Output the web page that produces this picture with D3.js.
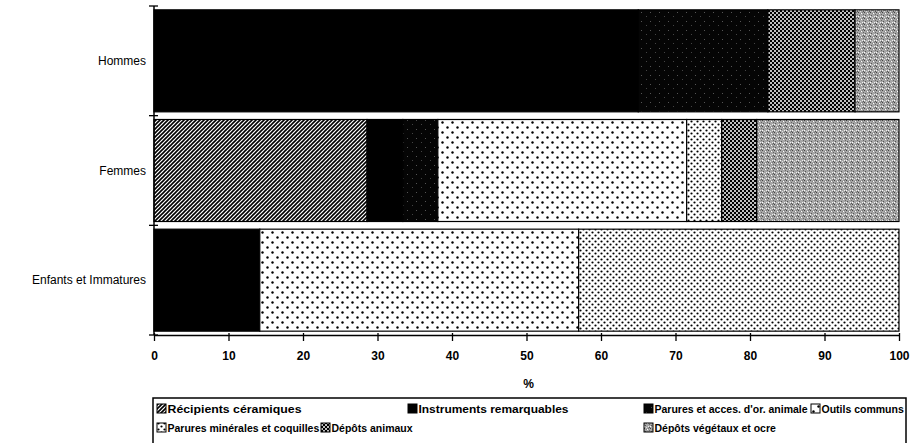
<!DOCTYPE html>
<html><head><meta charset="utf-8">
<script src="https://cdn.jsdelivr.net/npm/d3@7"></script>
<style>
body{margin:0;background:#fff;}
svg{display:block;}
</style></head>
<body>
<svg id="chart" width="910" height="443"></svg>
<script>
const categories = ["Hommes", "Femmes", "Enfants et Immatures"];
const seriesNames = ["Récipients céramiques", "Instruments remarquables", "Parures et acces. d'or. animale", "Outils communs", "Parures minérales et coquilles", "Dépôts animaux", "Dépôts végétaux et ocre"];
const recipients = [0, 28.6, 0];
const instruments = [65.0, 4.8, 14.2];
const paruresAnimale = [17.4, 4.7, 0];
const outils = [0, 33.4, 42.8];
const paruresMinerales = [0, 4.7, 43.0];
const depotsAnimaux = [11.7, 4.7, 0];
const depotsVegetaux = [5.9, 19.1, 0];
const xTicks = [0, 10, 20, 30, 40, 50, 60, 70, 80, 90, 100];
const xTitle = "%";

const seriesValues = [recipients, instruments, paruresAnimale, outils, paruresMinerales, depotsAnimaux, depotsVegetaux];
const keys = seriesNames;
const table = categories.map((c, i) => {
  const row = {cat: c};
  keys.forEach((k, j) => row[k] = seriesValues[j][i]);
  return row;
});

const svg = d3.select("#chart");
const defs = svg.append("defs");

function pat(id, w, h, build) {
  const p = defs.append("pattern").attr("id", id).attr("patternUnits", "userSpaceOnUse").attr("width", w).attr("height", h);
  build(p);
}
pat("p0", 4, 4, p => {
  p.append("rect").attr("width", 4).attr("height", 4).attr("fill", "#fff");
  p.append("path").attr("d", "M-1,1 l2,-2 M0,4 l4,-4 M3,5 l2,-2").attr("stroke", "#000").attr("stroke-width", 1.6);
});
pat("p1", 4, 4, p => {
  p.append("rect").attr("width", 4).attr("height", 4).attr("fill", "#000");
});
pat("p2", 9, 9, p => {
  p.append("rect").attr("width", 9).attr("height", 9).attr("fill", "#050505");
  p.append("rect").attr("x", 2).attr("y", 3).attr("width", 1).attr("height", 1).attr("fill", "#555");
  p.append("rect").attr("x", 7).attr("y", 7).attr("width", 1).attr("height", 1).attr("fill", "#444");
});
pat("p3", 10, 10, p => {
  p.append("rect").attr("width", 10).attr("height", 10).attr("fill", "#fff");
  p.append("circle").attr("cx", 2.5).attr("cy", 2.5).attr("r", 1.2).attr("fill", "#000");
  p.append("circle").attr("cx", 7.5).attr("cy", 7.5).attr("r", 1.2).attr("fill", "#000");
});
pat("p4", 6, 6, p => {
  p.append("rect").attr("width", 6).attr("height", 6).attr("fill", "#fff");
  p.append("circle").attr("cx", 1.5).attr("cy", 1.5).attr("r", 1.1).attr("fill", "#000");
  p.append("circle").attr("cx", 4.5).attr("cy", 4.5).attr("r", 1.1).attr("fill", "#000");
});
pat("p5", 4, 4, p => {
  p.append("rect").attr("width", 4).attr("height", 4).attr("fill", "#000");
  p.append("circle").attr("cx", 1).attr("cy", 1).attr("r", 1.0).attr("fill", "#fff");
  p.append("circle").attr("cx", 3).attr("cy", 3).attr("r", 1.0).attr("fill", "#fff");
});
pat("p6", 6, 6, p => {
  p.append("rect").attr("width", 6).attr("height", 6).attr("fill", "#a6a6a6");
  [[0,0,"#444"],[3,1,"#fff"],[1,3,"#555"],[4,4,"#eee"],[5,2,"#666"],[2,5,"#ddd"],[0,4,"#fff"],[4,0,"#777"],[2,1,"#888"],[5,5,"#555"]].forEach(d =>
    p.append("rect").attr("x", d[0]).attr("y", d[1]).attr("width", 1).attr("height", 1).attr("fill", d[2]));
});
const fills = keys.map((k, i) => `url(#p${i})`);
const color = d3.scaleOrdinal().domain(keys).range(fills);

const margin = {left: 154, right: 11, top: 6, bottom: 108};
const W = 910, H = 443;
const x = d3.scaleLinear().domain([0, 100]).range([margin.left, W - margin.right]);
const y = d3.scaleBand().domain(categories).range([margin.top, H - margin.bottom]).paddingInner(0.07).paddingOuter(0.035);

const stack = d3.stack().keys(keys)(table);

svg.append("g").selectAll("g").data(stack).join("g")
  .attr("fill", d => color(d.key))
  .selectAll("rect").data(d => d.filter(s => s[1] - s[0] > 0)).join("rect")
  .attr("x", d => x(d[0]))
  .attr("width", d => x(d[1]) - x(d[0]))
  .attr("y", d => y(d.data.cat))
  .attr("height", y.bandwidth())
  .attr("stroke", "#000")
  .attr("stroke-width", 1.2);

// y axis
const y0 = margin.top, y1 = H - margin.bottom;
svg.append("line").attr("x1", x(0)).attr("x2", x(0)).attr("y1", y0).attr("y2", y1).attr("stroke", "#000").attr("stroke-width", 1.5);
const bounds = [y0].concat(categories.map(c => y(c) + y.bandwidth() + y.step() * y.paddingInner() / 2).slice(0, 2)).concat([y1]);
svg.append("g").selectAll("line").data(bounds).join("line")
  .attr("x1", x(0) - 5).attr("x2", x(0) + 4).attr("y1", d => d).attr("y2", d => d)
  .attr("stroke", "#000").attr("stroke-width", 1.3);
svg.append("g").selectAll("text").data(categories).join("text")
  .attr("x", x(0) - 8).attr("y", d => y(d) + y.bandwidth() / 2 + 4)
  .attr("text-anchor", "end")
  .attr("font-family", "Liberation Sans, Arial, sans-serif").attr("font-size", 12)
  .text(d => d);

// x axis
const xa = svg.append("g").attr("transform", `translate(0,${y1})`)
  .call(d3.axisBottom(x).tickValues(xTicks).tickSize(6).tickSizeOuter(0).tickPadding(10));
xa.select(".domain").attr("stroke", "#000").attr("stroke-width", 1.5);
xa.selectAll(".tick line").attr("stroke", "#000").attr("stroke-width", 1.3).attr("y1", -2);
xa.selectAll(".tick text").attr("font-family", "Liberation Sans, Arial, sans-serif").attr("font-size", 12).attr("font-weight", "bold").attr("fill", "#000");
svg.append("text").attr("x", (x(0) + x(100)) / 2 + 2).attr("y", 388).attr("text-anchor", "middle")
  .attr("font-family", "Liberation Sans, Arial, sans-serif").attr("font-size", 12).attr("font-weight", "bold").text(xTitle);

// legend
svg.append("rect").attr("x", 153).attr("y", 398).attr("width", 753).attr("height", 70)
  .attr("fill", "none").attr("stroke", "#000").attr("stroke-width", 1.5);
const legPos = [[157, 409], [408, 409], [644, 409], [811, 409], [157, 428], [321, 428], [644, 428]];
const legLen = [134, 150, null, null, null, null, null];
const lg = svg.append("g").selectAll("g").data(keys).join("g")
  .attr("transform", (d, i) => `translate(${legPos[i][0]},${legPos[i][1]})`);
lg.append("rect").attr("x", 0).attr("y", -5).attr("width", 9).attr("height", 9)
  .attr("fill", d => color(d)).attr("stroke", "#000").attr("stroke-width", 1);
lg.append("text").attr("x", 10.5).attr("y", 4)
  .attr("font-family", "Liberation Sans, Arial, sans-serif").attr("font-size", 10.5).attr("font-weight", "bold")
  .each(function(d, i) {
    if (legLen[i]) d3.select(this).attr("textLength", legLen[i]).attr("lengthAdjust", "spacingAndGlyphs");
  })
  .text(d => d);
</script>
</body></html>
